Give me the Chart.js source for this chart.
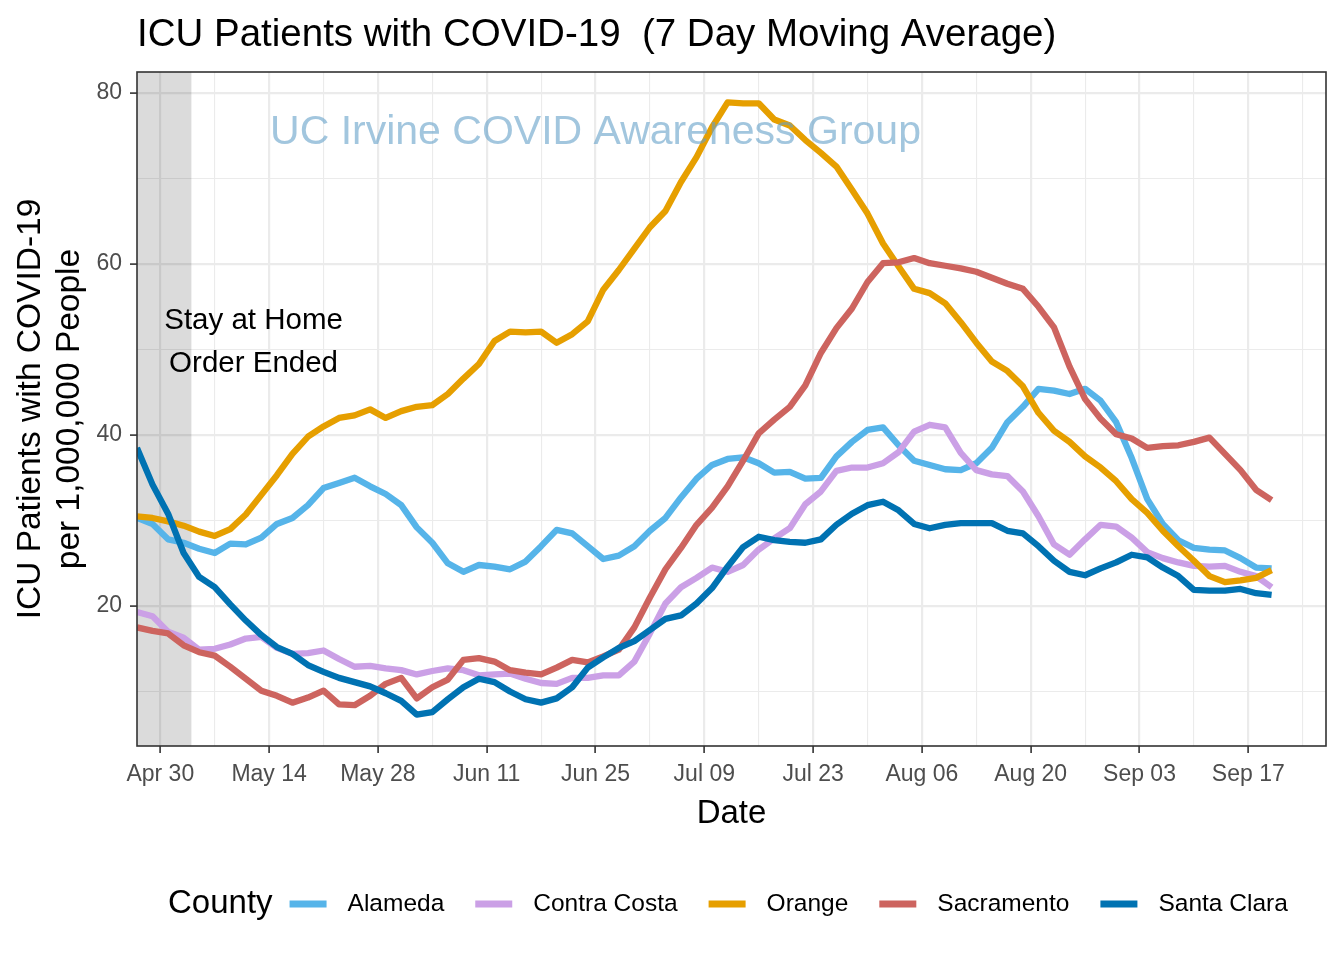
<!DOCTYPE html>
<html>
<head>
<meta charset="utf-8">
<title>ICU Patients with COVID-19</title>
<script src="https://cdn.jsdelivr.net/npm/chart.js@4.4.1/dist/chart.umd.min.js"></script>
<style>
  html, body { margin: 0; padding: 0; background: #ffffff; }
  #wrap { width: 1344px; height: 960px; position: relative; }
  canvas { display: block; }
</style>
</head>
<body>
<div id="wrap"><canvas id="chart" width="1344" height="960"></canvas></div>
<script>
// ---------- DATA ----------
// x = days since Apr 30, 2020 (every second day, Apr 27 .. Sep 20)
const days = [-3,-1,1,3,5,7,9,11,13,15,17,19,21,23,25,27,29,31,33,35,37,39,41,43,45,47,49,51,53,55,57,59,61,63,65,67,69,71,73,75,77,79,81,83,85,87,89,91,93,95,97,99,101,103,105,107,109,111,113,115,117,119,121,123,125,127,129,131,133,135,137,139,141,143];

const alameda = [30.3,29.6,27.8,27.4,26.7,26.2,27.3,27.2,28.0,29.6,30.3,31.8,33.8,34.4,35.0,34.0,33.1,31.8,29.2,27.4,25.0,24.0,24.8,24.6,24.3,25.2,27.0,28.9,28.5,27.0,25.5,25.9,27.0,28.8,30.3,32.7,34.9,36.5,37.2,37.4,36.7,35.6,35.7,34.9,35.0,37.5,39.2,40.6,40.9,38.8,37.0,36.5,36.0,35.9,36.7,38.5,41.5,43.3,45.4,45.2,44.8,45.4,44.0,41.5,37.3,32.5,29.6,27.7,26.8,26.6,26.5,25.6,24.5,24.4];

const contraCosta = [19.3,18.8,17.0,16.3,14.9,15.0,15.5,16.2,16.4,15.1,14.4,14.5,14.8,13.8,12.9,13.0,12.7,12.5,12.0,12.4,12.7,12.5,11.9,12.0,12.1,11.5,11.0,10.9,11.6,11.6,11.9,11.9,13.5,16.8,20.3,22.2,23.3,24.5,24.0,24.8,26.6,27.9,29.1,31.9,33.4,35.8,36.2,36.2,36.7,38.0,40.4,41.2,40.9,37.9,35.9,35.4,35.2,33.4,30.5,27.2,26.0,27.8,29.5,29.3,28.0,26.3,25.6,25.1,24.7,24.6,24.7,24.0,23.5,22.2];

const orange = [30.5,30.3,29.9,29.4,28.7,28.2,29.0,30.7,33.0,35.3,37.8,39.8,41.0,42.0,42.3,43.0,42.0,42.8,43.3,43.5,44.8,46.6,48.3,51.0,52.1,52.0,52.1,50.8,51.8,53.3,57.0,59.3,61.8,64.3,66.2,69.6,72.5,76.0,78.9,78.8,78.8,76.9,76.2,74.5,73.0,71.4,68.7,65.9,62.4,59.7,57.1,56.6,55.4,53.2,50.8,48.6,47.5,45.7,42.6,40.5,39.2,37.5,36.2,34.6,32.5,30.9,28.8,27.0,25.3,23.5,22.8,23.0,23.3,24.2];

const sacramento = [17.5,17.1,16.8,15.4,14.6,14.2,12.9,11.5,10.1,9.5,8.7,9.3,10.1,8.5,8.4,9.5,10.9,11.6,9.2,10.5,11.4,13.7,13.9,13.5,12.5,12.2,12.0,12.8,13.7,13.4,14.1,14.9,17.5,21.0,24.3,26.8,29.5,31.5,34.0,37.0,40.2,41.8,43.3,45.8,49.6,52.5,54.8,57.9,60.1,60.2,60.7,60.1,59.8,59.5,59.1,58.4,57.7,57.1,55.0,52.6,48.0,44.2,41.9,40.1,39.6,38.5,38.7,38.8,39.2,39.7,37.8,35.9,33.6,32.4];

const santaClara = [38.5,34.2,30.8,26.2,23.4,22.2,20.2,18.3,16.6,15.2,14.4,13.1,12.3,11.6,11.1,10.6,9.8,8.9,7.3,7.6,9.1,10.5,11.5,11.1,10.0,9.1,8.7,9.2,10.5,12.8,14.0,15.1,15.9,17.2,18.5,18.9,20.3,22.1,24.6,26.9,28.1,27.7,27.5,27.4,27.8,29.5,30.8,31.8,32.2,31.2,29.6,29.1,29.5,29.7,29.7,29.7,28.8,28.5,27.0,25.3,24.0,23.6,24.4,25.1,26.0,25.7,24.5,23.5,21.9,21.8,21.8,22.0,21.5,21.3];

const countyNames = ['Alameda', 'Contra Costa', 'Orange', 'Sacramento', 'Santa Clara'];
const countySeries = [alameda, contraCosta, orange, sacramento, santaClara];
const countyColors = ['#56B4E9', '#CBA0E6', '#E69F00', '#CD645F', '#0072B2'];

const xTickDays = [0,14,28,42,56,70,84,98,112,126,140];
const xTickLabels = ['Apr 30','May 14','May 28','Jun 11','Jun 25','Jul 09','Jul 23','Aug 06','Aug 20','Sep 03','Sep 17'];
const xGridDays = [0,7,14,21,28,35,42,49,56,63,70,77,84,91,98,105,112,119,126,133,140,147];
const yTickValues = [20,40,60,80];
const yGridValues = [10,20,30,40,50,60,70,80];

const stayHomeEndDay = 4;   // shaded period ends May 4
const FONT = "'Liberation Sans', Arial, Helvetica, sans-serif";

// ---------- PLUGINS ----------
const decorPlugin = {
  id: 'decor',
  beforeDatasetsDraw(chart) {
    const {ctx, chartArea, scales} = chart;
    const x0 = chartArea.left;
    const x1 = scales.x.getPixelForValue(stayHomeEndDay);
    ctx.save();
    ctx.fillStyle = 'rgba(0,0,0,0.14)';
    ctx.fillRect(x0, chartArea.top, x1 - x0, chartArea.bottom - chartArea.top);
    ctx.restore();
  },
  afterDatasetsDraw(chart) {
    const {ctx, chartArea, scales} = chart;
    ctx.save();
    // annotation text
    ctx.fillStyle = '#000000';
    ctx.font = '29.5px ' + FONT;
    ctx.textAlign = 'center';
    ctx.textBaseline = 'middle';
    const ax = scales.x.getPixelForValue(12);
    ctx.fillText('Stay at Home', ax, scales.y.getPixelForValue(53.3));
    ctx.fillText('Order Ended', ax, scales.y.getPixelForValue(48.3));
    // watermark
    ctx.fillStyle = 'rgba(100,160,200,0.6)';
    ctx.font = '41px ' + FONT;
    ctx.fillText('UC Irvine COVID Awareness Group', scales.x.getPixelForValue(56), scales.y.getPixelForValue(75.4));
    // panel border
    ctx.strokeStyle = '#333333';
    ctx.lineWidth = 1.6;
    ctx.strokeRect(chartArea.left, chartArea.top, chartArea.right - chartArea.left, chartArea.bottom - chartArea.top);
    ctx.restore();
  },
  afterDraw(chart) {
    const {ctx, chartArea} = chart;
    ctx.save();
    // title
    ctx.fillStyle = '#000000';
    ctx.font = '38.5px ' + FONT;
    ctx.textAlign = 'left';
    ctx.textBaseline = 'alphabetic';
    ctx.fillText('ICU Patients with COVID-19  (7 Day Moving Average)', chartArea.left, 46);
    // legend
    const ly = 904;
    ctx.textBaseline = 'middle';
    ctx.font = '33px ' + FONT;
    let x = 168;
    ctx.fillText('County', x, ly);
    x += ctx.measureText('County').width + 17;
    ctx.font = '24.5px ' + FONT;
    countyNames.forEach((name, i) => {
      ctx.fillStyle = countyColors[i];
      ctx.fillRect(x, ly - 3.5, 37, 7);
      x += 37 + 21;
      ctx.fillStyle = '#000000';
      ctx.fillText(name, x, ly);
      x += ctx.measureText(name).width + 31;
    });
    ctx.restore();
  }
};

// ---------- CHART ----------
Chart.defaults.font.family = FONT;

const datasets = countyNames.map((name, i) => ({
  label: name,
  data: days.map((d, j) => ({x: d, y: countySeries[i][j]})),
  borderColor: countyColors[i],
  backgroundColor: countyColors[i],
  borderWidth: 6.3,
  borderJoinStyle: 'round',
  borderCapStyle: 'butt',
  pointRadius: 0,
  tension: 0,
  fill: false,
  order: countyNames.length - i
}));

new Chart(document.getElementById('chart'), {
  type: 'line',
  data: { datasets },
  options: {
    responsive: false,
    animation: false,
    devicePixelRatio: 1,
    layout: { padding: { top: 72, right: 18, bottom: 0, left: 0 } },
    plugins: {
      legend: { display: false },
      tooltip: { enabled: false },
      title: { display: false }
    },
    scales: {
      x: {
        type: 'linear',
        min: -3,
        max: 150,
        afterBuildTicks(scale) { scale.ticks = xGridDays.map(v => ({value: v})); },
        afterFit(scale) { scale.height = 214; },
        ticks: {
          autoSkip: false,
          maxRotation: 0,
          minRotation: 0,
          padding: 8,
          color: '#4D4D4D',
          font: { size: 23 },
          callback(v) { const k = xTickDays.indexOf(v); return k >= 0 ? xTickLabels[k] : ''; }
        },
        grid: {
          color: '#EBEBEB',
          lineWidth: c => (xTickDays.includes(c.tick && c.tick.value) ? 2.2 : 1.1),
          tickLength: 7,
          tickWidth: 1.6,
          tickColor: c => (xTickDays.includes(c.tick && c.tick.value) ? '#333333' : 'rgba(0,0,0,0)')
        },
        border: { display: false },
        title: {
          display: true,
          text: 'Date',
          color: '#000000',
          font: { size: 33, lineHeight: 1.2 },
          padding: { top: 0, bottom: 126 }
        }
      },
      y: {
        type: 'linear',
        min: 3.63,
        max: 82.46,
        afterBuildTicks(scale) { scale.ticks = yGridValues.map(v => ({value: v})); },
        afterFit(scale) { scale.width = 137; },
        ticks: {
          padding: 8,
          color: '#4D4D4D',
          font: { size: 23 },
          callback(v) { return yTickValues.includes(v) ? String(v) : ''; }
        },
        grid: {
          color: '#EBEBEB',
          lineWidth: c => (yTickValues.includes(c.tick && c.tick.value) ? 2.2 : 1.1),
          tickLength: 7,
          tickWidth: 1.6,
          tickColor: c => (yTickValues.includes(c.tick && c.tick.value) ? '#333333' : 'rgba(0,0,0,0)')
        },
        border: { display: false },
        title: {
          display: true,
          text: ['ICU Patients with COVID-19', 'per 1,000,000 People'],
          color: '#000000',
          font: { size: 33.5, lineHeight: 1.14 },
          padding: { top: 12, bottom: 0 }
        }
      }
    }
  },
  plugins: [decorPlugin]
});
</script>
</body>
</html>
